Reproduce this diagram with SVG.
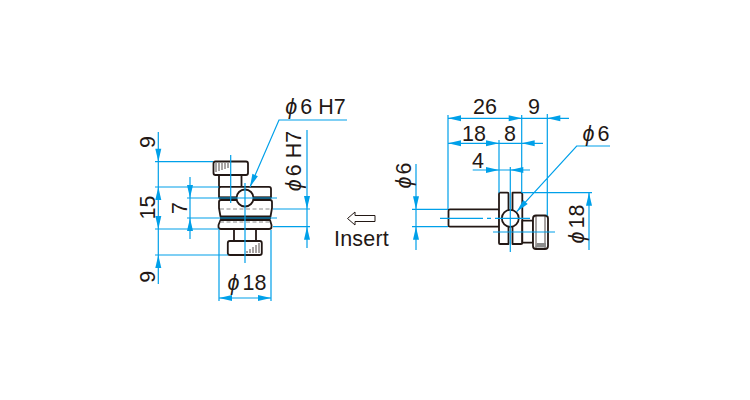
<svg xmlns="http://www.w3.org/2000/svg" width="750" height="400" viewBox="0 0 750 400">
<style>
text{font-family:"Liberation Sans",Arial,sans-serif;font-size:21.500px;fill:#231815;text-anchor:middle}
.p{font-style:italic}
.m{fill:#fff;stroke:#231815;stroke-width:1.800;stroke-linejoin:round}
.t{fill:none;stroke:#231815;stroke-width:2.400}
.h{fill:none;stroke:#231815;stroke-width:.8}
.d{fill:none;stroke:#8a8a8a;stroke-width:1;stroke-dasharray:4 2.500}
.b{fill:none;stroke:#00a0e9;stroke-width:1.200}
.a{fill:#00a0e9}
</style>
<defs>
<path id="ar" class="a" d="M0 0L13 -3V3Z"/>
</defs>
<g id="node-left-view">
<rect class="m" x="213.500" y="161.500" width="34.500" height="13.500" rx="2"/>
<path class="h" d="M216 163V172M219 163V171M222 163V170M225 163V169M228 163V168"/>
<rect class="m" x="219" y="175" width="22.500" height="12"/>
<path class="m" d="M219 197.500V189Q219 186.800 221 186.800H269Q271 186.800 271 189V197.500Z"/>
<path class="m" d="M219 202Q219 200 221 200H270Q272 200 272 202V208L270.500 216.500H220.500L219 208Z"/>
<path class="m" d="M220.500 220H270L271.500 225V227Q271.500 229 269 229H221Q218.500 229 218.500 227V225Z"/>
<path class="t" d="M219 198H237M253 198H271M220 217.800H271"/>
<path class="d" d="M220 209H271M220 222H271"/>
<rect class="m" x="234" y="229" width="22" height="12"/>
<rect class="m" x="227.800" y="241" width="34" height="14" rx="2"/>
<path class="h" d="M259 243V253M256 245V253M253 247V253M250 249V253M247 251V253"/>
<circle class="m" cx="245" cy="198" r="8.500"/>
</g>
<g id="node-right-view">
<rect class="m" x="448.500" y="209.300" width="51" height="17.400" rx="1.500"/>
<path class="m" d="M499 194Q499 192.700 500 192.700H507.500Q508.500 192.700 508.500 194V244H500Q499 244 499 243Z"/>
<path class="m" d="M512.500 192.700H521Q522.300 192.700 522.300 194V243Q522.300 244 521 244H512.500Z"/>
<rect class="m" x="522.300" y="220.700" width="10.700" height="22"/>
<rect class="m" x="533" y="215.500" width="15" height="33.500" rx="3"/>
<path class="h" d="M536 215.500V249M545 215.500V249"/>
<path d="M535 247.500L537 243H546V247.500Z" fill="#8c8c8c"/>
<circle class="m" cx="510.300" cy="218.300" r="8.500"/>
</g>
<g id="connectors">
<path class="b" d="M158.300 132V284M155 161.700H213M155 187H219M155 229H219M155 255H228M190 177V239M187 198H277M187 218H277M307 130V248M273 209H310M273 226.700H310M219 230V301M271 230V301M219 298H271M245 183V263M230.700 155V203M347 120H279L250 187"/>
<path class="b" d="M448 115V209M521.700 115V192.700M547.300 114V215.500M448 118.300H569M448 143.300H543M499 140V192.700M472.700 170H530M416 164V250M412 209.300H448M412 226.700H448M589 192.700V250M522 192.700H592M610 146H576.700L516.700 211.700"/>
<path class="b" d="M510.300 167V252M440 218.300H483M487 218.300H491M495 218.300H530M493 232H555"/>
<use href="#ar" transform="translate(158.300 161.700) rotate(-90)"/>
<use href="#ar" transform="translate(158.300 187) rotate(90)"/>
<use href="#ar" transform="translate(158.300 229) rotate(-90)"/>
<use href="#ar" transform="translate(158.300 255) rotate(90)"/>
<use href="#ar" transform="translate(190 198) rotate(-90)"/>
<use href="#ar" transform="translate(190 218) rotate(90)"/>
<use href="#ar" transform="translate(307 209) rotate(-90)"/>
<use href="#ar" transform="translate(307 226.700) rotate(90)"/>
<use href="#ar" transform="translate(219 298)"/>
<use href="#ar" transform="translate(271 298) rotate(180)"/>
<use href="#ar" transform="translate(250 187) rotate(-66.700)"/>
<use href="#ar" transform="translate(448 118.300)"/>
<use href="#ar" transform="translate(521.700 118.300) rotate(180)"/>
<use href="#ar" transform="translate(547.300 118.300)"/>
<use href="#ar" transform="translate(448 143.300)"/>
<use href="#ar" transform="translate(499 143.300) rotate(180)"/>
<use href="#ar" transform="translate(521.700 143.300)"/>
<use href="#ar" transform="translate(499 170) rotate(180)"/>
<use href="#ar" transform="translate(510.300 170)"/>
<use href="#ar" transform="translate(416 209.300) rotate(-90)"/>
<use href="#ar" transform="translate(416 226.700) rotate(90)"/>
<use href="#ar" transform="translate(589 192.700) rotate(90)"/>
<use href="#ar" transform="translate(516.700 211.700) rotate(-47.600)"/>
</g>
<g id="insert-arrow">
<path fill="#fff" stroke="#231815" stroke-width="1" d="M375 215.500H355V212L347.500 218.500L355 225V221.500H375Z"/>
</g>
<g id="labels">
<text x="315.500" y="113.700"><tspan class="p">ϕ</tspan><tspan dx="3">6 H7</tspan></text>
<text transform="translate(155 142) rotate(-90)">9</text>
<text transform="translate(155 207.500) rotate(-90)">15</text>
<text transform="translate(187 208) rotate(-90)">7</text>
<text transform="translate(155 276.700) rotate(-90)">9</text>
<text transform="translate(301 161) rotate(-90)"><tspan class="p">ϕ</tspan><tspan dx="3">6 H7</tspan></text>
<text x="247" y="290"><tspan class="p">ϕ</tspan><tspan dx="3">18</tspan></text>
<text x="485" y="114">26</text>
<text x="534" y="114">9</text>
<text x="474" y="140.700">18</text>
<text x="510" y="140.700">8</text>
<text x="478" y="168">4</text>
<text x="596" y="141"><tspan class="p">ϕ</tspan><tspan dx="3">6</tspan></text>
<text transform="translate(410.700 175.500) rotate(-90)"><tspan class="p">ϕ</tspan><tspan dx="2">6</tspan></text>
<text transform="translate(584 224) rotate(-90)"><tspan class="p">ϕ</tspan><tspan dx="3">18</tspan></text>
<text x="361.500" y="246" letter-spacing=".2">Insert</text>
</g>
</svg>
